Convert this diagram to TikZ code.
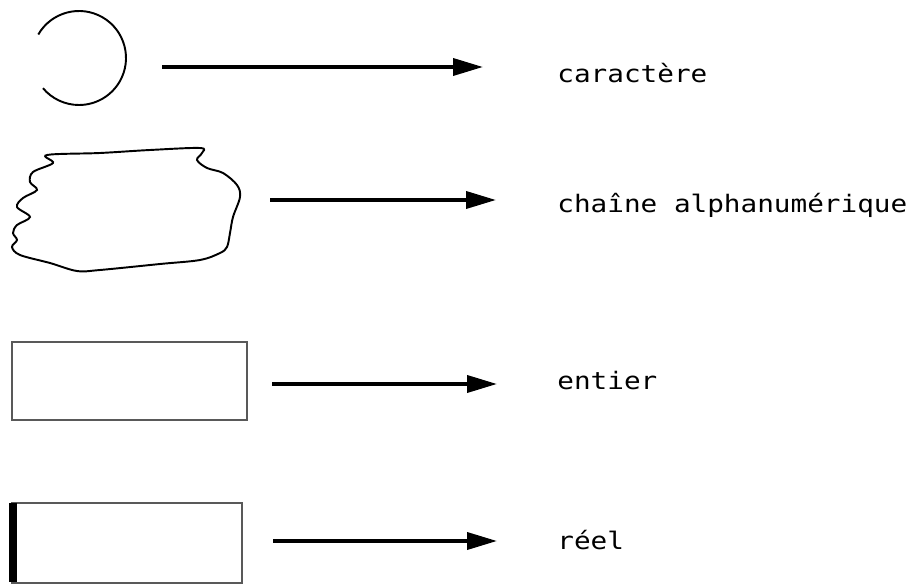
\documentclass[tikz,border=0pt]{standalone}
\usepackage{fontspec}
\newfontfamily\printfont[FakeStretch=1.15]{DejaVu Sans Mono}
\usetikzlibrary{arrows.meta}

\begin{document}
\begin{tikzpicture}[x=0.02cm,y=-0.02cm,
  every node/.style={font=\printfont\fontsize{13.7}{16}\selectfont,inner sep=0pt},
  fleche/.style={-{Triangle[length=0.6cm,width=0.34cm]},line width=2.1pt},
  contour/.style={line width=1.1pt},
  trait/.style={line width=0.6pt,black!65}]
  \useasboundingbox (0,0) rectangle (909,587);
  % caractere
  \draw[contour] (79,58) ++(-150:47) arc[start angle=-150,end angle=140,radius=47];
  \coordinate (c1a) at (162,67); \coordinate (c1b) at (483,67);
  \draw[fleche] (c1a) -- (c1b);
  \node[anchor=base west] (t1) at (557,83) {caractère};
  % chaine
  \draw[contour] plot[smooth cycle,tension=0.55] coordinates {
    (47,155) (53,163) (33,172) (30,182) (37,190) (23,198) (17,207) (30,217)
    (17,225) (13,233) (17,240) (12,247) (20,255) (50,263) (77,271) (100,270)
    (160,264) (200,260) (220,253) (227,247) (230,233) (233,217) (240,197)
    (237,185) (223,173) (207,168) (197,160) (202,153) (200,148) (150,150) (100,153)};
  \coordinate (c2a) at (270,200); \coordinate (c2b) at (496,200);
  \draw[fleche] (c2a) -- (c2b);
  \node[anchor=base west] (t2) at (557,213) {chaîne alphanumérique};
  % entier
  \draw[trait] (12,342) rectangle (247,420);
  \coordinate (c3a) at (272,384); \coordinate (c3b) at (497,384);
  \draw[fleche] (c3a) -- (c3b);
  \node[anchor=base west] (t3) at (557,389) {entier};
  % reel
  \draw[trait] (12,503) rectangle (242,583);
  \fill (9,503) rectangle (17,582);
  \coordinate (c4a) at (273,541); \coordinate (c4b) at (497,541);
  \draw[fleche] (c4a) -- (c4b);
  \node[anchor=base west] (t4) at (557,549) {réel};
\end{tikzpicture}
\end{document}
